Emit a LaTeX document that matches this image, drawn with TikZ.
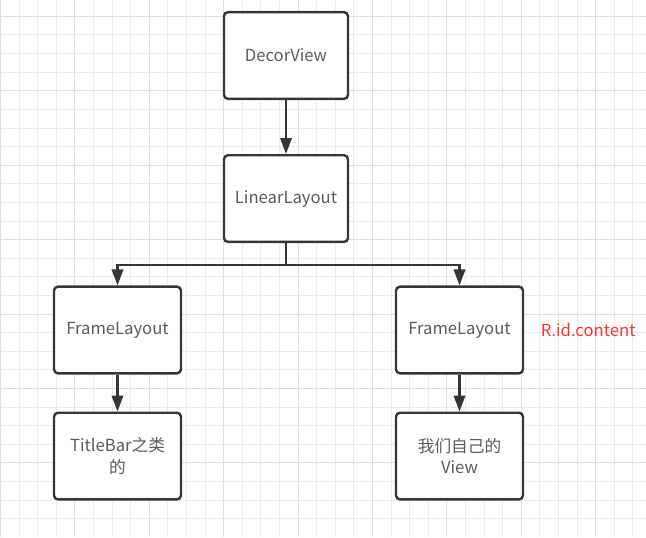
\documentclass[tikz,border=0pt]{standalone}
\usepackage{fontspec}
\setmainfont{Noto Sans CJK SC}
\usetikzlibrary{arrows.meta,positioning}
\definecolor{gridminor}{HTML}{EBEBEB}
\definecolor{gridmajor}{HTML}{DEDEDE}
\definecolor{boxline}{HTML}{363636}
\definecolor{boxtext}{HTML}{5C5C5C}
\definecolor{ridred}{HTML}{FF3030}

\begin{document}
\begin{tikzpicture}[
  x=0.75pt,y=0.75pt,
  node distance=40pt,
  box/.style={draw=boxline,fill=white,line width=1.8pt,rounded corners=3pt,
              minimum width=93pt,minimum height=65pt,align=center,
              text=boxtext,font=\fontsize{12.5}{16}\selectfont},
  wide/.style={minimum width=95.25pt},
  arr/.style={-{Triangle[length=12pt,width=8.5pt]},line width=1.8pt,color=boxline},
  note/.style={font=\fontsize{12.5}{16}\selectfont,text=ridred}
]
\useasboundingbox (0,0) rectangle (646,537);
% background grid
\foreach \k in {0,...,34}
  \draw[gridminor,line width=0.75pt] (0.5+18.6*\k,0) -- (0.5+18.6*\k,537);
\foreach \k in {0,...,27}
  \draw[gridminor,line width=0.75pt] (0,520.6-18.6*\k) -- (646,520.6-18.6*\k);
\foreach \k in {0,4,...,32}
  \draw[gridmajor,line width=0.75pt] (0.5+18.6*\k,0) -- (0.5+18.6*\k,537);
\foreach \k in {0,4,...,24}
  \draw[gridmajor,line width=0.75pt] (0,520.6-18.6*\k) -- (646,520.6-18.6*\k);

% tree
\node[box] (dec) at (286,481.5) {DecorView};
\node[box,below=40.5pt of dec] (lin) {LinearLayout};
\node[box,wide] (frL) at (117.5,207) {FrameLayout};
\node[box,wide] (frR) at (459.5,207) {FrameLayout};
\node[box,wide,below=27.75pt of frL] (title) {TitleBar之类\\的};
\node[box,wide,below=27.75pt of frR] (own) {我们自己的\\View};
\node[note,right=9pt of frR] (rid) {R.id.content};

\draw[arr] (dec) -- (lin);
\draw[arr] (lin.south) -- ++(0,-22) -| (frL.north);
\draw[arr] (lin.south) -- ++(0,-22) -| (frR.north);
\draw[arr] (frL) -- (title);
\draw[arr] (frR) -- (own);
\end{tikzpicture}
\end{document}
